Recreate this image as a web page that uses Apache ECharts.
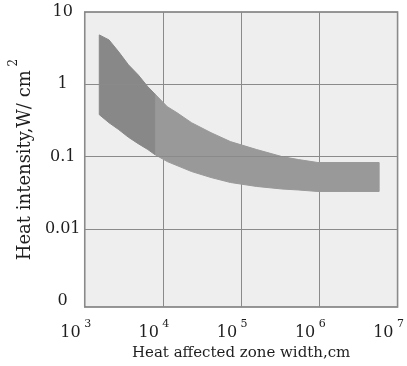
<!DOCTYPE html>
<html>
<head>
<meta charset="utf-8">
<script src="https://cdn.jsdelivr.net/npm/echarts@6/dist/echarts.min.js"></script>
<style>
  html, body { margin: 0; padding: 0; background: #ffffff; }
  #chart { width: 407px; height: 366px; }
</style>
</head>
<body>
<div id="chart"></div>
<script>
// Band of heat intensity versus heat affected zone width (log-log)
const bandWidth = [1536, 2045, 2721, 3623, 4823, 6420, 7842, 11370, 15140, 23250, 41200, 73000,
                   158000, 332000, 541000, 958000, 2260000, 5810000];
const bandUpper = [4.82, 4.11, 2.81, 1.86, 1.35, 0.924, 0.740, 0.490, 0.404, 0.294, 0.214, 0.161,
                   0.125, 0.100, 0.0909, 0.0827, 0.0827, 0.0827];
const bandLower = [0.380, 0.294, 0.236, 0.185, 0.151, 0.125, 0.107, 0.0853, 0.0751, 0.0621, 0.0513, 0.0438,
                   0.0386, 0.0356, 0.0345, 0.0329, 0.0329, 0.0329];
// index where the darker left part of the band ends
const darkEnd = 6;

const xTickValues = [1e3, 1e4, 1e5, 1e6, 1e7];
const xTickExponents = ['3', '4', '5', '6', '7'];
const yTickValues = [0.001, 0.01, 0.1, 1, 10];
const yTickLabels = ['0', '0.01', '0.1', '1', '10'];
const yGridValues = [0.01, 0.1, 1];

const Y_MIN = 0.00083;
const FONT = 'DejaVu Serif';
const TEXT = '#1e1e1e';

function matchTick(values, v) {
  const lv = Math.log10(v);
  for (let i = 0; i < values.length; i++) {
    if (Math.abs(Math.log10(values[i]) - lv) < 0.01) return i;
  }
  return -1;
}

function bandPolygon(api, from, to) {
  const pts = [];
  for (let i = from; i <= to; i++) pts.push(api.coord([bandWidth[i], bandUpper[i]]));
  for (let i = to; i >= from; i--) pts.push(api.coord([bandWidth[i], bandLower[i]]));
  return pts;
}

const chart = echarts.init(document.getElementById('chart'), null, { renderer: 'canvas' });

chart.setOption({
  animation: false,
  backgroundColor: '#ffffff',
  grid: {
    left: 80, right: 5, top: 12, bottom: 58,
    show: true,
    backgroundColor: '#eeeeee',
    borderColor: '#767676',
    borderWidth: 1.5
  },
  xAxis: {
    type: 'log',
    logBase: 10,
    min: xTickValues[0],
    max: xTickValues[xTickValues.length - 1],
    axisLine: { show: false },
    axisTick: { show: false },
    splitLine: { show: true, lineStyle: { color: '#8a8a8a', width: 1 } },
    axisLabel: {
      margin: 12,
      padding: [0, 18, 0, 0],
      formatter: function (v) {
        const i = matchTick(xTickValues, v);
        return i < 0 ? '' : '{b|10}{s| ' + xTickExponents[i] + '}';
      },
      rich: {
        b: { fontFamily: FONT, fontSize: 16, color: TEXT, lineHeight: 22, verticalAlign: 'bottom' },
        s: { fontFamily: FONT, fontSize: 11, color: TEXT, lineHeight: 22, verticalAlign: 'top' }
      }
    },
    name: 'Heat affected zone width,cm',
    nameLocation: 'middle',
    nameGap: 39,
    nameTextStyle: { fontFamily: FONT, fontSize: 15, color: TEXT }
  },
  yAxis: {
    type: 'log',
    logBase: 10,
    min: Y_MIN,
    max: yTickValues[yTickValues.length - 1],
    axisLine: { show: false },
    axisTick: { show: false },
    splitLine: { show: false },
    axisLabel: {
      margin: 22,
      align: 'center',
      fontFamily: FONT,
      fontSize: 16,
      color: TEXT,
      formatter: function (v) {
        const i = matchTick(yTickValues, v);
        return i < 0 ? '' : yTickLabels[i];
      }
    },
    name: '{n|Heat intensity,W/ cm}{s| 2}',
    nameLocation: 'middle',
    nameGap: 50,
    nameTextStyle: {
      rich: {
        n: { fontFamily: FONT, fontSize: 18, color: TEXT, lineHeight: 26, verticalAlign: 'bottom' },
        s: { fontFamily: FONT, fontSize: 12, color: TEXT, lineHeight: 26, verticalAlign: 'top' }
      }
    }
  },
  series: [
    {
      name: 'grid',
      type: 'line',
      z: 1,
      data: [],
      markLine: {
        silent: true,
        symbol: 'none',
        label: { show: false },
        lineStyle: { type: 'solid', color: '#8a8a8a', width: 1 },
        data: yGridValues.map(function (v) { return { yAxis: v }; })
      }
    },
    {
      name: 'band',
      type: 'custom',
      z: 3,
      data: [0],
      renderItem: function (params, api) {
        const last = bandWidth.length - 1;
        return {
          type: 'group',
          children: [
            {
              type: 'polygon',
              shape: { points: bandPolygon(api, darkEnd, last) },
              style: { fill: '#999999', stroke: '#999999', lineWidth: 1 }
            },
            {
              type: 'polygon',
              shape: { points: bandPolygon(api, 0, darkEnd) },
              style: { fill: '#888888', stroke: '#888888', lineWidth: 1 }
            }
          ]
        };
      }
    }
  ]
});
</script>
</body>
</html>
